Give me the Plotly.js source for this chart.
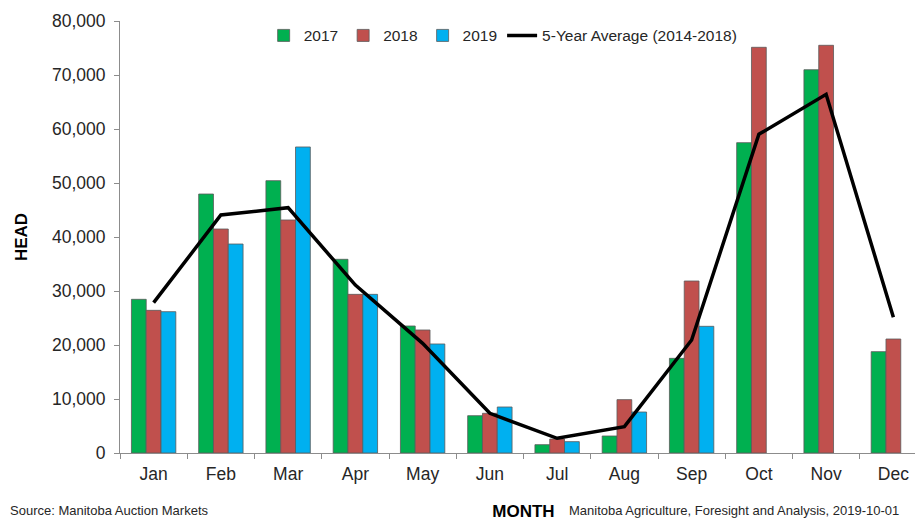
<!DOCTYPE html>
<html>
<head>
<meta charset="utf-8">
<script src="https://cdn.plot.ly/plotly-3.0.1.min.js"></script>
<style>
html,body{margin:0;padding:0;overflow:hidden;background:#fff;}
#chart{width:940px;height:521px;}
</style>
</head>
<body>
<div id="chart"></div>
<script>
var months = ["Jan","Feb","Mar","Apr","May","Jun","Jul","Aug","Sep","Oct","Nov","Dec"];
var head2017 = [28460, 47960, 50430, 35870, 23520, 6910, 1540, 3150, 17530, 57470, 70980, 18770];
var head2018 = [26420, 41480, 43150, 29380, 22780, 7350, 2590, 9880, 31850, 75130, 75500, 21110];
var head2019 = [26170, 38700, 56670, 29380, 20190, 8520, 2100, 7590, 23460, null, null, null];
var avg5yr   = [27840, 44070, 45430, 31100, 20300, 7350, 2720, 4880, 20930, 59020, 66430, 25130];
var yTicks = [0, 10000, 20000, 30000, 40000, 50000, 60000, 70000, 80000];
var yTickText = ["0","10,000","20,000","30,000","40,000","50,000","60,000","70,000","80,000"];

var barLine = {color: "#5a5a5a", width: 0.8};
var traces = [
  {type: "bar", name: "2017", x: months, y: head2017, marker: {color: "#00B050", line: barLine}},
  {type: "bar", name: "2018", x: months, y: head2018, marker: {color: "#C0504D", line: barLine}},
  {type: "bar", name: "2019", x: months, y: head2019, marker: {color: "#00B0F0", line: barLine}},
  {type: "scatter", mode: "lines", name: "5-Year Average (2014-2018)", x: months, y: avg5yr,
   line: {color: "#000000", width: 3.5}}
];

var font = {family: "Liberation Sans, Arial, sans-serif", color: "#262626"};
var layout = {
  width: 940, height: 521,
  margin: {l: 120, r: 13, t: 21, b: 68},
  paper_bgcolor: "#ffffff", plot_bgcolor: "#ffffff",
  font: font,
  barmode: "group", bargap: 0.34, bargroupgap: 0,
  showlegend: true,
  legend: {orientation: "h", x: 0.178, y: 1.005, xanchor: "left", yanchor: "top",
           font: {size: 15.5, color: "#262626"}, bgcolor: "rgba(0,0,0,0)", traceorder: "normal",
           itemwidth: 30},
  xaxis: {
    type: "category", showgrid: false, zeroline: false,
    showline: true, linecolor: "#8c8c8c", linewidth: 1,
    ticks: "outside", tickson: "boundaries", ticklen: 5, tickcolor: "#8c8c8c",
    tickfont: {size: 17.5, color: "#262626"}, ticklabelstandoff: 5,
    title: {text: "<b>MONTH</b>", font: {size: 17, color: "#000"}, standoff: 26}
  },
  yaxis: {
    range: [0, 80000], showgrid: false, zeroline: false,
    showline: true, linecolor: "#8c8c8c", linewidth: 1,
    ticks: "outside", ticklen: 5, tickcolor: "#8c8c8c",
    tickvals: yTicks, ticktext: yTickText,
    tickfont: {size: 17.5, color: "#262626"}, ticklabelstandoff: 5,
    title: {text: "<b>HEAD</b>", font: {size: 17, color: "#000"}, standoff: 20}
  },
  annotations: [
    {text: "Source: Manitoba Auction Markets", xref: "paper", yref: "paper",
     x: -0.139, y: -0.11, xanchor: "left", yanchor: "top", showarrow: false,
     font: {size: 13, color: "#262626"}},
    {text: "Manitoba Agriculture, Foresight and Analysis, 2019-10-01", xref: "paper", yref: "paper",
     x: 0.554, y: -0.11, xanchor: "left", yanchor: "top", showarrow: false,
     font: {size: 13, color: "#262626"}}
  ]
};

Plotly.newPlot("chart", traces, layout, {displayModeBar: false, staticPlot: true});
</script>
</body>
</html>
